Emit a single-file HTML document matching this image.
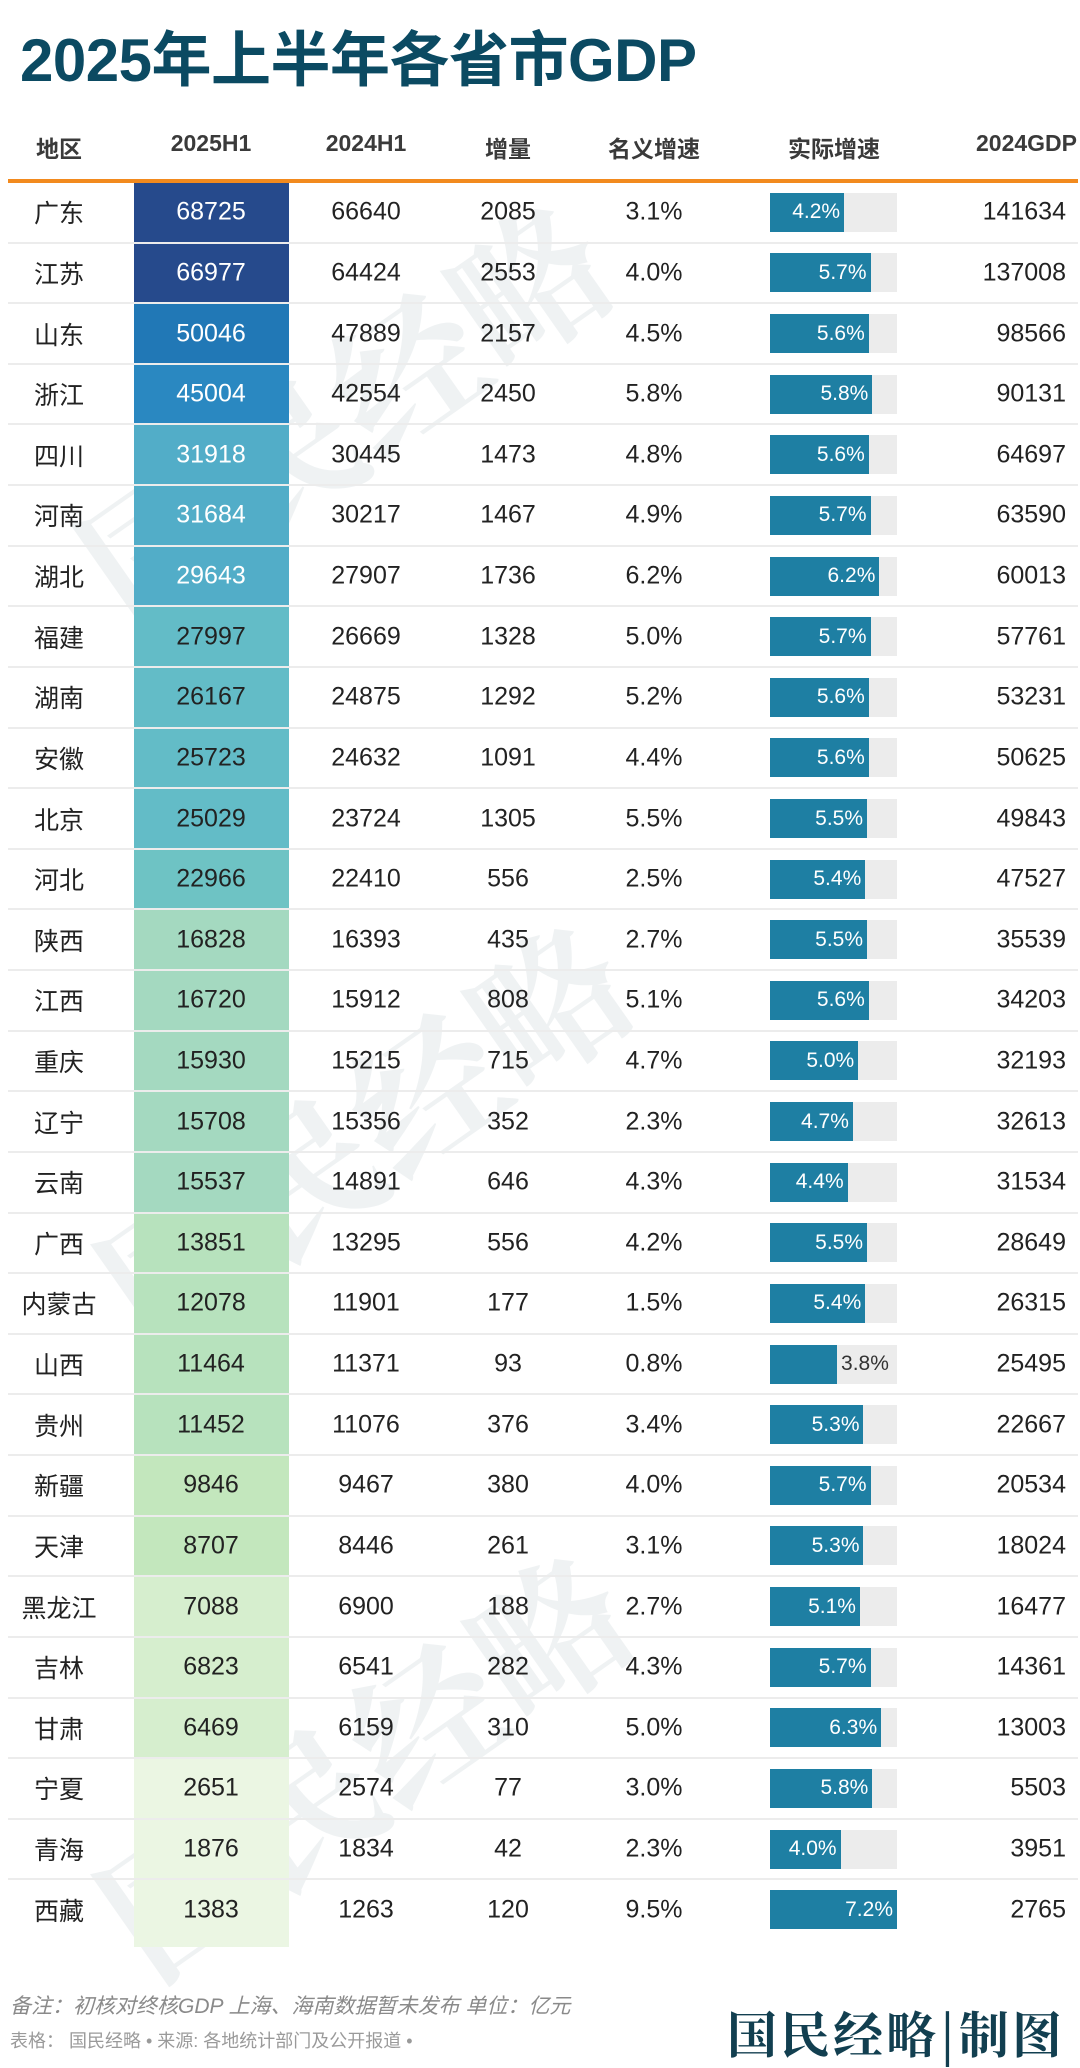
<!DOCTYPE html>
<html><head><meta charset="utf-8">
<style>
html,body{margin:0;padding:0;background:#fff;}
body{width:1080px;height:2068px;position:relative;overflow:hidden;font-family:"Liberation Sans","Noto Sans CJK SC",sans-serif;}
#title{position:absolute;left:20px;top:12px;font-size:60px;font-weight:bold;color:#0b4a62;letter-spacing:-0.5px;font-family:"Liberation Sans","Noto Sans CJK SC",sans-serif;}
.hdr{position:absolute;top:130px;font-size:23px;font-weight:bold;color:#3a3a3a;transform:translateX(-50%);white-space:nowrap;}
#orange{position:absolute;left:8px;top:179px;width:1070px;height:4px;background:#f28a1e;}
.cell{position:absolute;font-size:25px;color:#222;transform:translate(-50%,-50%);white-space:nowrap;}
.sep{position:absolute;left:8px;width:1070px;height:2px;background:#ececec;}
.fill{position:absolute;left:134px;width:155px;}
.wm{position:absolute;font-family:"Noto Serif CJK SC",serif;font-weight:bold;color:rgba(150,165,175,0.15);font-size:150px;transform:rotate(-35deg);white-space:nowrap;}
.barbg{position:absolute;left:770px;width:127px;height:39px;background:#ececec;}
.bar{position:absolute;left:770px;height:39px;background:#1e7fa3;}
.blab{position:absolute;font-size:21px;transform:translateY(-50%);white-space:nowrap;}
#note1{position:absolute;left:10px;top:1990px;font-size:21px;font-style:italic;color:#8a8a8a;}
#note2{position:absolute;left:10px;top:2027px;font-size:18px;color:#9a9a9a;}
#logo{position:absolute;left:727px;top:1996px;font-family:"Noto Serif CJK SC",serif;font-weight:bold;font-size:50px;color:#123f50;letter-spacing:3px;white-space:nowrap;}
</style></head>
<body>
<div id="title">2025年上半年各省市GDP</div>
<div id="table"></div>
<div id="orange"></div>
<div id="note1">备注：初核对终核GDP 上海、海南数据暂未发布 单位：亿元</div>
<div id="note2">表格：&nbsp;国民经略 • 来源: 各地统计部门及公开报道 •</div>
<div id="logo">国民经略|制图</div>
<script>
const regions=["广东","江苏","山东","浙江","四川","河南","湖北","福建","湖南","安徽","北京","河北","陕西","江西","重庆","辽宁","云南","广西","内蒙古","山西","贵州","新疆","天津","黑龙江","吉林","甘肃","宁夏","青海","西藏"];
const gdp2025H1=[68725,66977,50046,45004,31918,31684,29643,27997,26167,25723,25029,22966,16828,16720,15930,15708,15537,13851,12078,11464,11452,9846,8707,7088,6823,6469,2651,1876,1383];
const gdp2024H1=[66640,64424,47889,42554,30445,30217,27907,26669,24875,24632,23724,22410,16393,15912,15215,15356,14891,13295,11901,11371,11076,9467,8446,6900,6541,6159,2574,1834,1263];
const increments=[2085,2553,2157,2450,1473,1467,1736,1328,1292,1091,1305,556,435,808,715,352,646,556,177,93,376,380,261,188,282,310,77,42,120];
const nominalGrowth=["3.1%","4.0%","4.5%","5.8%","4.8%","4.9%","6.2%","5.0%","5.2%","4.4%","5.5%","2.5%","2.7%","5.1%","4.7%","2.3%","4.3%","4.2%","1.5%","0.8%","3.4%","4.0%","3.1%","2.7%","4.3%","5.0%","3.0%","2.3%","9.5%"];
const realGrowth=[4.2,5.7,5.6,5.8,5.6,5.7,6.2,5.7,5.6,5.6,5.5,5.4,5.5,5.6,5.0,4.7,4.4,5.5,5.4,3.8,5.3,5.7,5.3,5.1,5.7,6.3,5.8,4.0,7.2];
const gdp2024=[141634,137008,98566,90131,64697,63590,60013,57761,53231,50625,49843,47527,35539,34203,32193,32613,31534,28649,26315,25495,22667,20534,18024,16477,14361,13003,5503,3951,2765];
const headers=["地区","2025H1","2024H1","增量","名义增速","实际增速","2024GDP"];

const TOP=182, RH=60.62, BARW=127, BARMAX=7.2;
const colX=[59,211,366,508,654,834,1020];
function rowY(i){return TOP+i*RH;}
function barW(v){return v/BARMAX*BARW;}
function fillColor(v){
  if(v>=60000)return "#264a8c";
  if(v>=48000)return "#2178b6";
  if(v>=40000)return "#2a88c1";
  if(v>=29000)return "#52adc8";
  if(v>=25000)return "#63bcc7";
  if(v>=20000)return "#6ec3c4";
  if(v>=15000)return "#a4d9c0";
  if(v>=10000)return "#b7e2bd";
  if(v>=8000)return "#c3e7bd";
  if(v>=5000)return "#d6eece";
  return "#ebf6e3";
}
const table=document.getElementById('table');
headers.forEach((h,j)=>{
  const d=document.createElement('div');d.className='hdr';
  
  
  d.textContent=h;
  if(j===6){d.style.transform='none';d.style.right='3px';} else d.style.left=colX[j]+'px';
  table.appendChild(d);
});
[[40,300,"国民经略"],[60,1020,"国民经略"],[60,1650,"国民经略"]].forEach(w=>{
  const d=document.createElement('div');d.className='wm';
  
  
  d.style.left=w[0]+'px';d.style.top=w[1]+'px';d.textContent=w[2];table.appendChild(d);
});
regions.forEach((r,i)=>{
  const y=rowY(i), cy=y+RH/2;
  const f=document.createElement('div');f.className='fill';
  
  
  f.style.top=(y+1)+'px';f.style.height=(i===regions.length-1?RH+6:RH)+'px';f.style.background=fillColor(gdp2025H1[i]);
  table.appendChild(f);
  if(i>0){const s=document.createElement('div');s.className='sep';
    
    
    s.style.top=(y-1)+'px';table.appendChild(s);}
  const vals=[r,gdp2025H1[i],gdp2024H1[i],increments[i],nominalGrowth[i]];
  vals.forEach((v,j)=>{
    const c=document.createElement('div');c.className='cell';
    
    
    c.textContent=v;c.style.left=colX[j]+'px';c.style.top=cy+'px';
    if(j===1&&gdp2025H1[i]>=29000)c.style.color='#fff';
    table.appendChild(c);
  });
  const bg=document.createElement('div');bg.className='barbg';
  
  
  bg.style.top=(cy-19.5)+'px';table.appendChild(bg);
  const b=document.createElement('div');b.className='bar';
  
  
  const w=barW(realGrowth[i]);
  b.style.top=(cy-19.5)+'px';b.style.width=w+'px';table.appendChild(b);
  const l=document.createElement('div');l.className='blab';
  
  
  l.textContent=realGrowth[i].toFixed(1)+'%';l.style.top=cy+'px';
  if(w<70){l.style.left=(770+w+4)+'px';l.style.color='#333';}
  else{l.style.right=(1080-(770+w)+4)+'px';l.style.color='#fff';}
  table.appendChild(l);
  const g=document.createElement('div');g.className='cell';
  
  
  g.textContent=gdp2024[i];g.style.transform='translateY(-50%)';g.style.right='14px';g.style.top=cy+'px';
  table.appendChild(g);
});
</script>
</body></html>
